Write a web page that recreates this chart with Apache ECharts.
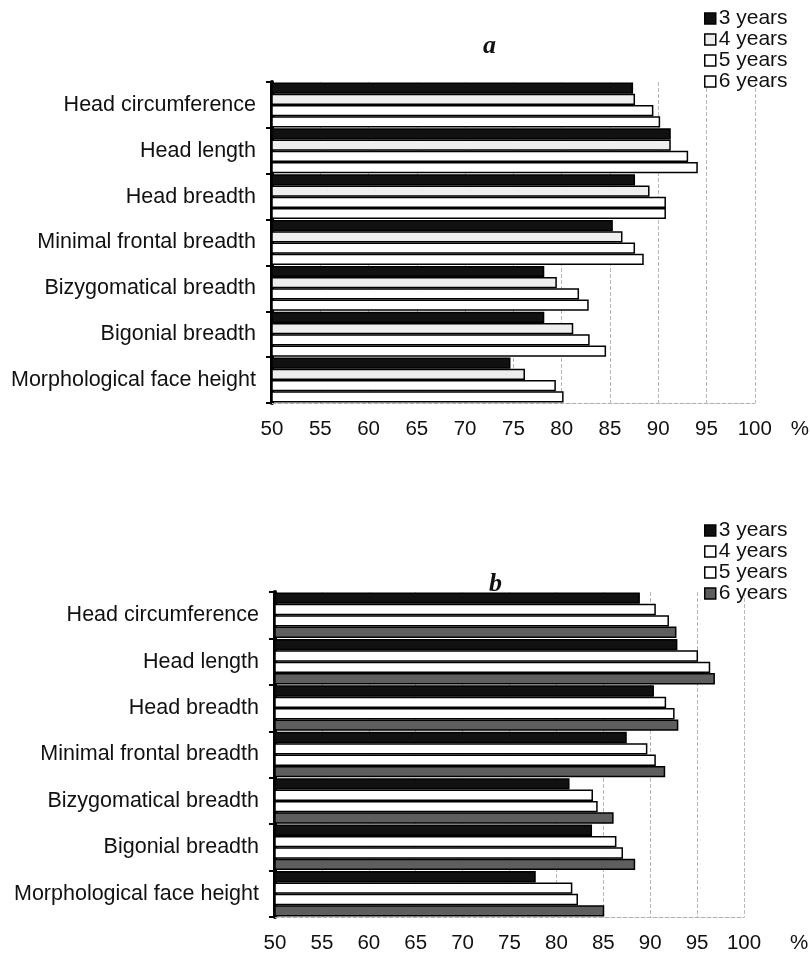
<!DOCTYPE html>
<html>
<head>
<meta charset="utf-8">
<script src="https://cdn.jsdelivr.net/npm/echarts@6/dist/echarts.min.js"></script>
<style>
html,body{margin:0;padding:0;background:#fff;}
#chart{width:810px;height:959px;}
</style>
</head>
<body>
<div id="chart"></div>
<script>
const categories = ['Head circumference','Head length','Head breadth','Minimal frontal breadth','Bizygomatical breadth','Bigonial breadth','Morphological face height'];
const seriesNames = ['3 years','4 years','5 years','6 years'];
const xTickMin = 50, xTickMax = 100, xTickStep = 5;

// Panel a
const a3 = [87.4, 91.3, 87.6, 85.3, 78.2, 78.2, 74.7];
const a4 = [87.6, 91.3, 89.1, 86.3, 79.5, 81.2, 76.2];
const a5 = [89.5, 93.1, 90.8, 87.6, 81.8, 82.9, 79.4];
const a6 = [90.2, 94.1, 90.8, 88.5, 82.8, 84.6, 80.2];
// Panel b
const b3 = [88.9, 92.9, 90.4, 87.5, 81.4, 83.8, 77.8];
const b4 = [90.6, 95.1, 91.7, 89.7, 83.9, 86.4, 81.7];
const b5 = [92.0, 96.4, 92.6, 90.6, 84.4, 87.1, 82.3];
const b6 = [92.8, 96.9, 93.0, 91.6, 86.1, 88.4, 85.1];

const colorsA = ['#111111','#eeeeee','#ffffff','#ffffff'];
const colorsB = ['#111111','#ffffff','#ffffff','#5e5e5e'];

const FONT = '"Liberation Sans", Arial, sans-serif';
const chart = echarts.init(document.getElementById('chart'), null, {renderer:'canvas'});

function yAxisDef(gridIndex){
  return {
    type:'category', gridIndex, data:categories, inverse:true,
    axisLine:{show:true, lineStyle:{color:'#000', width:4}},
    axisTick:{show:true, length:6, lineStyle:{color:'#000', width:2}},
    axisLabel:{fontFamily:FONT, fontSize:21.5, color:'#111', margin:16},
    splitLine:{show:false}
  };
}
function xAxisDef(gridIndex, margin, nameGap){
  return {
    type:'value', gridIndex, min:xTickMin, max:xTickMax, interval:xTickStep,
    axisLine:{show:true, lineStyle:{color:'#b0b0b0', width:1, type:'dashed'}},
    axisTick:{show:false},
    axisLabel:{fontFamily:FONT, fontSize:20.5, color:'#111', margin:margin},
    splitLine:{show:true, lineStyle:{color:'#b8b8b8', width:1, type:'dashed'}},
    name:'%', nameLocation:'end', nameGap:nameGap,
    nameTextStyle:{fontFamily:FONT, fontSize:20.5, color:'#111', align:'left', verticalAlign:'top', padding:[margin,0,0,0]}
  };
}
function barSeries(name, data, color, idx){
  return {
    type:'bar', name, data, xAxisIndex:idx, yAxisIndex:idx,
    barGap:'0%', barCategoryGap:'2%',
    itemStyle:{color, borderColor:'#000', borderWidth:1.5},
    emphasis:{disabled:true}, animation:false
  };
}
function legendDef(top, colors){
  return {
    orient:'vertical', left:704, top, itemGap:0, itemWidth:11, itemHeight:11, itemGap:0,
    padding:0, itemStyle:{borderColor:'#000', borderWidth:1.5},
    textStyle:{fontFamily:FONT, fontSize:21, color:'#111', lineHeight:20, padding:[0,0,0,-2]},
    icon:'rect', selectedMode:false,
    data: seriesNames.map((n,i)=>({name:n, itemStyle:{color:colors[i], borderColor:'#000', borderWidth:1.5}}))
  };
}

const option = {
  animation:false,
  backgroundColor:'#fff',
  title:[
    {text:'a', left:478, top:28, textStyle:{fontFamily:'"Liberation Serif", "DejaVu Serif", serif', fontStyle:'italic', fontWeight:'bold', fontSize:26, color:'#111'}},
    {text:'b', left:484, top:566, textStyle:{fontFamily:'"Liberation Serif", "DejaVu Serif", serif', fontStyle:'italic', fontWeight:'bold', fontSize:26, color:'#111'}}
  ],
  legend:[ legendDef(8, colorsA), legendDef(520, colorsB) ],
  grid:[
    {left:272, top:82, width:483, height:321},
    {left:275, top:592, width:469, height:325}
  ],
  xAxis:[ xAxisDef(0, 16, 36), xAxisDef(1, 16, 46) ],
  yAxis:[ yAxisDef(0), yAxisDef(1) ],
  series:[
    barSeries(seriesNames[0], a3, colorsA[0], 0),
    barSeries(seriesNames[1], a4, colorsA[1], 0),
    barSeries(seriesNames[2], a5, colorsA[2], 0),
    barSeries(seriesNames[3], a6, colorsA[3], 0),
    barSeries(seriesNames[0], b3, colorsB[0], 1),
    barSeries(seriesNames[1], b4, colorsB[1], 1),
    barSeries(seriesNames[2], b5, colorsB[2], 1),
    barSeries(seriesNames[3], b6, colorsB[3], 1)
  ]
};
chart.setOption(option);
</script>
</body>
</html>
